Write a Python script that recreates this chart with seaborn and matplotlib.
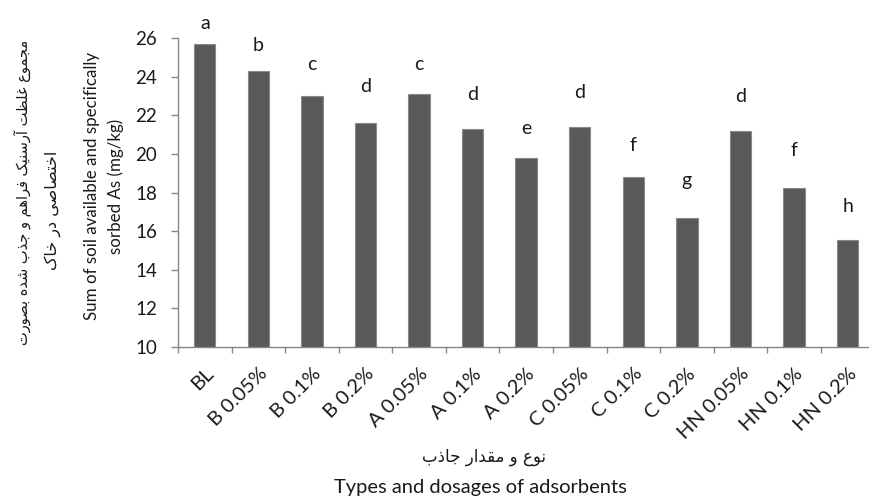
import numpy as np
import pandas as pd
import matplotlib
matplotlib.use("Agg")
import matplotlib.pyplot as plt
from matplotlib.ticker import FixedLocator, MultipleLocator
import seaborn as sns

# Treatments and mean sum of available + specifically sorbed As (mg/kg)
treatments = ["BL", "B 0.05%", "B 0.1%", "B 0.2%", "A 0.05%", "A 0.1%", "A 0.2%",
              "C 0.05%", "C 0.1%", "C 0.2%", "HN 0.05%", "HN 0.1%", "HN 0.2%"]
as_sum = [25.7, 24.3, 23.0, 21.6, 23.1, 21.3, 19.8, 21.4, 18.8, 16.7, 21.2, 18.25, 15.55]
groups = ["a", "b", "c", "d", "c", "d", "e", "d", "f", "g", "d", "f", "h"]

ylabel_fa_1 = "مجموع غلظت آرسنیک فراهم و جذب شده بصورت"
ylabel_fa_2 = "اختصاصی در خاک"
ylabel_en = "Sum of soil available and specifically\nsorbed As (mg/kg)"
xlabel_fa = "نوع و مقدار جاذب"
xlabel_en = "Types and dosages of adsorbents"

# Contextual glyph forms: (isolated, final, initial, medial)
FORMS = {
    "\u0622": ("\uFE81", "\uFE82", None, None),
    "\u0627": ("\uFE8D", "\uFE8E", None, None),
    "\u0628": ("\uFE8F", "\uFE90", "\uFE91", "\uFE92"),
    "\u062A": ("\uFE95", "\uFE96", "\uFE97", "\uFE98"),
    "\u062C": ("\uFE9D", "\uFE9E", "\uFE9F", "\uFEA0"),
    "\u062E": ("\uFEA5", "\uFEA6", "\uFEA7", "\uFEA8"),
    "\u062F": ("\uFEA9", "\uFEAA", None, None),
    "\u0630": ("\uFEAB", "\uFEAC", None, None),
    "\u0631": ("\uFEAD", "\uFEAE", None, None),
    "\u0633": ("\uFEB1", "\uFEB2", "\uFEB3", "\uFEB4"),
    "\u0634": ("\uFEB5", "\uFEB6", "\uFEB7", "\uFEB8"),
    "\u0635": ("\uFEB9", "\uFEBA", "\uFEBB", "\uFEBC"),
    "\u0638": ("\uFEC5", "\uFEC6", "\uFEC7", "\uFEC8"),
    "\u0639": ("\uFEC9", "\uFECA", "\uFECB", "\uFECC"),
    "\u063A": ("\uFECD", "\uFECE", "\uFECF", "\uFED0"),
    "\u0641": ("\uFED1", "\uFED2", "\uFED3", "\uFED4"),
    "\u0642": ("\uFED5", "\uFED6", "\uFED7", "\uFED8"),
    "\u0644": ("\uFEDD", "\uFEDE", "\uFEDF", "\uFEE0"),
    "\u0645": ("\uFEE1", "\uFEE2", "\uFEE3", "\uFEE4"),
    "\u0646": ("\uFEE5", "\uFEE6", "\uFEE7", "\uFEE8"),
    "\u0647": ("\uFEE9", "\uFEEA", "\uFEEB", "\uFEEC"),
    "\u0648": ("\uFEED", "\uFEEE", None, None),
    "\u06A9": ("\uFB8E", "\uFB8F", "\uFB90", "\uFB91"),
    "\u06CC": ("\uFBFC", "\uFBFD", "\uFBFE", "\uFBFF"),
}


def shape_rtl(text):
    """Join Persian letters into their contextual forms and lay them out right-to-left."""
    text = text.replace("\u064A", "\u06CC").replace("\u0643", "\u06A9")
    out = []
    for i, ch in enumerate(text):
        forms = FORMS.get(ch)
        if forms is None:
            out.append(ch)
            continue
        prev = text[i - 1] if i > 0 else ""
        nxt = text[i + 1] if i + 1 < len(text) else ""
        join_prev = prev in FORMS and FORMS[prev][2] is not None
        join_next = nxt in FORMS and forms[2] is not None
        if join_prev and join_next:
            out.append(forms[3])
        elif join_next:
            out.append(forms[2])
        elif join_prev:
            out.append(forms[1])
        else:
            out.append(forms[0])
    return "".join(reversed(out))


sns.set_theme(style="white")
plt.rcParams["font.family"] = ["Lato", "DejaVu Sans"]
plt.rcParams["text.color"] = "#1a1a1a"

df = pd.DataFrame({"treatment": treatments, "value": as_sum})

W, H = 869, 497
fig = plt.figure(figsize=(W / 100, H / 100), dpi=100)
ax = fig.add_axes([178 / W, 150 / H, (W - 178) / W, 309 / H])

sns.barplot(data=df, x="treatment", y="value", color="#595959", saturation=1,
            width=0.4, edgecolor="#8a8a8a", linewidth=0.8, ax=ax)

ax.set_ylim(10, 26)
ax.set_xlim(-0.5, 12.40)
ax.yaxis.set_major_locator(MultipleLocator(2))

axis_grey = "#868686"
for side in ["top", "right"]:
    ax.spines[side].set_visible(False)
for side in ["left", "bottom"]:
    ax.spines[side].set_color(axis_grey)
    ax.spines[side].set_linewidth(1.0)

ax.tick_params(axis="y", which="major", direction="out", length=5, width=1,
               color=axis_grey, labelsize=13.5, labelcolor="#1a1a1a", pad=10, left=True)
ax.tick_params(axis="x", which="major", length=0, pad=13)
ax.xaxis.set_minor_locator(FixedLocator(np.arange(-0.5, 13, 1.0)))
ax.tick_params(axis="x", which="minor", direction="out", length=4.5, width=1,
               color=axis_grey, bottom=True)

ax.set_xticks(range(len(treatments)))
ax.set_xticklabels(treatments, rotation=45, ha="right", rotation_mode="anchor",
                   fontsize=14.5, color="#1a1a1a")
ax.set_xlabel("")
ax.set_ylabel("")

# Significance letters above the bars (offsets in points)
letter_offsets = [11, 14, 18.5, 22, 17, 21, 17, 21, 19, 23, 20.5, 23, 20]
for i, (v, g) in enumerate(zip(as_sum, groups)):
    ax.annotate(g, (i, v), xytext=(0, letter_offsets[i]), textcoords="offset points",
                ha="center", va="baseline", fontsize=14, annotation_clip=False)

# Axis titles
fig.text(104 / W, 1 - 186 / H, ylabel_en, rotation=90, ha="center", va="center",
         fontsize=12.2, linespacing=1.6, multialignment="center")
fig.text(22 / W, 1 - 192 / H, shape_rtl(ylabel_fa_1), rotation=90, ha="center",
         va="center", fontsize=10.5, family=["DejaVu Sans"])
fig.text(53 / W, 1 - 210 / H, shape_rtl(ylabel_fa_2), rotation=90, ha="center",
         va="center", fontsize=11.5, family=["DejaVu Sans"])
fig.text(484 / W, 1 - 457 / H, shape_rtl(xlabel_fa), ha="center", va="center",
         fontsize=12, family=["DejaVu Sans"])
fig.text(480 / W, 1 - 488 / H, xlabel_en, ha="center", va="center", fontsize=14.5)

fig.savefig("out.png", dpi=100, facecolor="white")
